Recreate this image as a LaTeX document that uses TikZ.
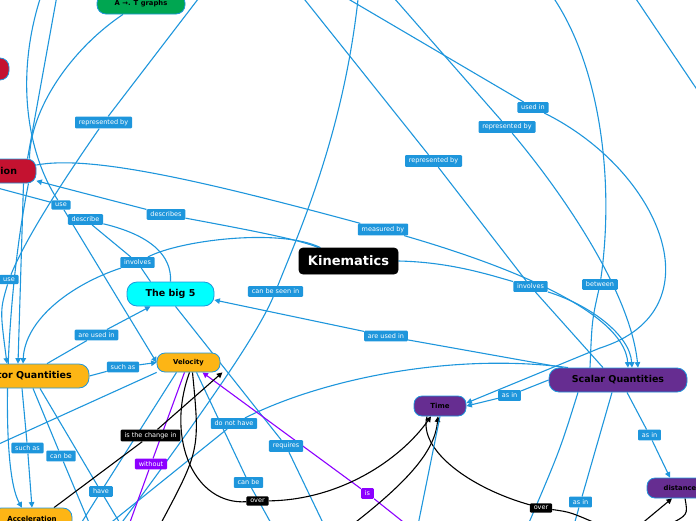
\documentclass[tikz,border=0pt]{standalone}
\usepackage{fontspec}
\setmainfont{DejaVu Sans}
\usetikzlibrary{arrows.meta, backgrounds}

\definecolor{linkblue}{RGB}{30,150,220}
\definecolor{kgreen}{RGB}{0,166,81}
\definecolor{kred}{RGB}{196,18,48}
\definecolor{kcyan}{RGB}{0,255,255}
\definecolor{korange}{RGB}{253,181,21}
\definecolor{kpurple}{RGB}{102,45,145}
\definecolor{kviolet}{RGB}{140,0,255}

\tikzset{
  concept/.style={draw=linkblue, line width=0.8pt, rounded corners=9pt, inner sep=2pt},
  lbl/.style={fill=linkblue, text=white, rounded corners=1pt, inner xsep=3.8pt, inner ysep=2.8pt,
    font=\fontsize{6.5}{7}\selectfont},
  blklbl/.style={lbl, fill=black},
  violbl/.style={lbl, fill=kviolet},
  link/.style={draw=linkblue, line width=1.1pt},
  blacklink/.style={draw=black, line width=1.1pt},
  violink/.style={draw=kviolet, line width=1.1pt},
  arr/.style={-{Triangle[length=5.5pt,width=5.5pt]}}
}

\begin{document}
\begin{tikzpicture}[x=1pt,y=-1pt]
  \useasboundingbox (0,0) rectangle (696,520);
  \clip (0,0) rectangle (696,520);

  % Concepts
  \node[concept, fill=kgreen, minimum width=88pt, minimum height=20pt, font=\bfseries\fontsize{6.8}{8}\selectfont] (atg) at (141,4) {A →. T graphs};
  \node[concept, fill=kred, minimum width=58pt, minimum height=22pt] (redtop) at (-20,69) {};
  \node[concept, fill=kred, minimum width=75pt, minimum height=24pt, font=\bfseries\fontsize{9.5}{11}\selectfont] (motion) at (-1.5,171) {Motion};
  \node[concept, fill=black, draw=black, text=white, rounded corners=4pt, minimum width=99pt, minimum height=26pt, font=\bfseries\fontsize{13}{15}\selectfont] (kin) at (348.5,261) {Kinematics};
  \node[concept, fill=kcyan, rounded corners=10pt, minimum width=87pt, minimum height=24pt, font=\bfseries\fontsize{9.5}{11}\selectfont] (bigfive) at (170.5,294) {The big 5};
  \node[concept, fill=korange, rounded corners=8pt, minimum width=63pt, minimum height=19pt, font=\bfseries\fontsize{6.8}{8}\selectfont] (vel) at (188.5,362.5) {Velocity};
  \node[concept, fill=korange, rounded corners=10pt, minimum width=128pt, minimum height=24pt, font=\bfseries\fontsize{9.5}{11}\selectfont] (vec) at (25,376) {Vector Quantities};
  \node[concept, fill=korange, rounded corners=9pt, minimum width=80pt, minimum height=22pt, font=\bfseries\fontsize{7}{8}\selectfont] (acc) at (32,519) {Acceleration};
  \node[concept, fill=kpurple, rounded corners=10pt, minimum width=138pt, minimum height=24pt, font=\bfseries\fontsize{9.5}{11}\selectfont] (scal) at (618,380) {Scalar Quantities};
  \node[concept, fill=kpurple, rounded corners=8pt, minimum width=52pt, minimum height=20pt, font=\bfseries\fontsize{7}{8}\selectfont] (time) at (440,406) {Time};
  \node[concept, fill=kpurple, rounded corners=8pt, minimum width=66pt, minimum height=20pt, font=\bfseries\fontsize{6.8}{8}\selectfont] (dist) at (680,488) {distance};

  % Link labels
  \node[lbl] (repA) at (103.5,122.5) {represented by};
  \node[lbl] (usedin) at (533,107.5) {used in};
  \node[lbl] (repB) at (507,127) {represented by};
  \node[lbl] (repC) at (433.5,161) {represented by};
  \node[lbl] (useA) at (61,205) {use};
  \node[lbl] (describe) at (85.5,219.5) {describe};
  \node[lbl] (describes) at (166,214.5) {describes};
  \node[lbl] (measured) at (383,229.5) {measured by};
  \node[lbl] (useB) at (9,279.5) {use};
  \node[lbl] (involA) at (137.5,262.5) {involves};
  \node[lbl] (seenin) at (275.5,291.5) {can be seen in};
  \node[lbl] (involB) at (530.5,286.5) {involves};
  \node[lbl] (between) at (600,284.5) {between};
  \node[lbl] (usedA) at (96.5,335) {are used in};
  \node[lbl] (usedB) at (386,336) {are used in};
  \node[lbl] (suchA) at (123,367) {such as};
  \node[lbl] (asinA) at (509.5,395.5) {as in};
  \node[blklbl] (change) at (150.5,435.5) {is the change in};
  \node[lbl] (donot) at (234,423.5) {do not have};
  \node[lbl] (asinB) at (649.5,435) {as in};
  \node[lbl] (suchB) at (27.5,448) {such as};
  \node[lbl] (canbeA) at (61,456) {can be};
  \node[lbl] (requires) at (286,446) {requires};
  \node[violbl] (without) at (151,464) {without};
  \node[lbl] (have) at (101,491.5) {have};
  \node[lbl] (canbeB) at (248.5,482.5) {can be};
  \node[blklbl] (overA) at (257.5,501) {over};
  \node[violbl] (is) at (367.5,493.5) {is};
  \node[blklbl] (overB) at (541,508) {over};
  \node[lbl] (asinC) at (580.5,502) {as in};

  % Ends outside the frame
  \coordinate (oA) at (43,-10);
  \coordinate (oB) at (58,-10);
  \coordinate (oC) at (205,-10);
  \coordinate (oD) at (297,-10);
  \coordinate (oE) at (333,-10);
  \coordinate (oF) at (359,-10);
  \coordinate (oG) at (387,-10);
  \coordinate (oH) at (548,-10);
  \coordinate (oI) at (630,-10);
  \coordinate (oJ) at (704,100);
  \coordinate (oK) at (-10,186);
  \coordinate (oL) at (-10,448);
  \coordinate (loopA) at (600,348);
  \coordinate (bA) at (80,525);
  \coordinate (bB) at (121,525);
  \coordinate (bC) at (90,525);
  \coordinate (bD) at (108,525);
  \coordinate (bE) at (120,525);
  \coordinate (bF) at (129,525);
  \coordinate (bG) at (160,525);
  \coordinate (bH) at (272,525);
  \coordinate (bI) at (324,525);
  \coordinate (bJ) at (352,525);
  \coordinate (bK) at (407,525);
  \coordinate (bL) at (418,525);
  \coordinate (bM) at (528,525);
  \coordinate (bN) at (574,525);
  \coordinate (bO) at (600,525);
  \coordinate (bP) at (640,525);
  \coordinate (bQ) at (668,525);

  \begin{scope}[on background layer]
    % Motion and the top left
    \draw[link] (oA) .. controls (15,70) and (25,150) .. (useA);
    \draw[link] (oK) -- (useA);
    \draw[link, arr] (useA) -- (vel.west);
    \draw[link] (oB) -- ([xshift=29pt]motion.north);
    \draw[link] ([xshift=-18pt]atg.south) .. controls (70,50) and (30,110) .. ([xshift=31pt]motion.north);
    \draw[link] (oC) -- (repA) .. controls (60,185) and (25,240) .. (useB);
    \draw[link, arr] (useB) .. controls (0,310) .. ([xshift=-18pt]vec.north);
    \draw[link, arr] ([xshift=25pt]motion.south) -- ([xshift=-7pt]vec.north);
    \draw[link, arr] ([xshift=30pt]motion.south) .. controls (5,300) and (0,470) .. ([xshift=-10pt]acc.north);
    \draw[link, arr] ([yshift=6pt]motion.east) .. controls (90,155) and (200,180) .. (measured)
      .. controls (540,275) and (625,320) .. ([xshift=10pt]scal.north);

    % Kinematics
    \draw[link, arr] ([xshift=-30pt]kin.north) .. controls (300,240) and (260,232) .. (describes) -- (motion);
    \draw[link, arr] ([xshift=-28pt]kin.north) .. controls (280,228) and (180,240) .. (involA)
      .. controls (70,285) and (25,320) .. ([xshift=-2pt]vec.north);
    \draw[link, arr] (kin.east) .. controls (450,262) and (490,275) .. (involB)
      .. controls (590,305) and (630,335) .. ([xshift=14pt]scal.north);
    \draw[link] (describe) -- (involA) -- ([xshift=-20pt]bigfive.north);
    \draw[link] (describe) .. controls (150,235) and (172,255) .. (bigfive.north);

    % top right
    \draw[link] (oD) -- (repC) -- (involB) -- ([xshift=-15pt]scal.north);
    \draw[link, arr] (oG) -- (repB) .. controls (560,190) and (630,290) .. ([xshift=20pt]scal.north);
    \draw[link] (oE) -- (usedin) .. controls (660,170) and (720,310) .. (loopA);
    \draw[link, arr] (loopA) -- ([yshift=3pt]time.east);
    \draw[link] (oH) .. controls (600,60) and (615,180) .. (between) .. controls (592,320) .. ([xshift=-28pt]scal.north);
    \draw[link] (oI) -- (oJ);

    % Scalar Quantities
    \draw[link, arr] (scal.west) -- (asinA) -- (time.east);
    \draw[link] ([xshift=-40pt]scal.south) .. controls (560,450) .. (bM);
    \draw[link] ([xshift=-6pt]scal.south) -- (asinC) -- (bN);
    \draw[link, arr] ([xshift=9pt]scal.south) -- (asinB) -- ([xshift=-10pt]dist.north);
    \draw[link, arr] ([xshift=-55pt]scal.north) -- (usedB) -- ([yshift=-6pt]bigfive.east);
    \draw[link] (bD) -- (donot) .. controls (320,380) and (450,352) .. ([xshift=-50pt]scal.north);

    % The big 5
    \draw[link, arr] ([xshift=22pt]vec.north) -- (usedA) -- ([xshift=-20pt]bigfive.south);
    \draw[link] ([xshift=5pt]bigfive.south) -- (requires) -- (bI);
    \draw[link] (oF) .. controls (345,130) and (300,230) .. (seenin) .. controls (255,340) and (190,430) .. (bE);

    % Vector Quantities and Velocity
    \draw[link, arr] (vec.east) -- (suchA) -- (vel.west);
    \draw[link] (vel.south west) -- (oL);
    \draw[link] ([xshift=-12pt]vel.south) -- (have) -- (bA);
    \draw[link] ([xshift=15pt]vec.south) -- (have) -- (bB);
    \draw[link, arr] ([xshift=-3pt]vec.south) -- (suchB) -- (acc.north);
    \draw[link] ([xshift=8pt]vec.south) -- (canbeA) -- (bC);
    \draw[link] ([xshift=8pt]vel.south) -- (canbeB) -- (bH);
    \draw[violink] ([xshift=-4pt]vel.south) -- (without) -- (bF);
    \draw[violink, arr] (bK) -- (is) -- ([xshift=14pt]vel.south);

    % black links
    \draw[blacklink, arr] ([xshift=22pt]acc.north) -- (change) -- ([xshift=2pt]vel.south east);
    \draw[blacklink, arr] ([xshift=1pt]vel.south) .. controls (165,440) and (195,505) .. (overA)
      .. controls (340,500) and (400,460) .. ([xshift=-9pt]time.south);
    \draw[blacklink] ([xshift=4pt]vel.south) .. controls (200,450) .. (bG);
    \draw[blacklink, arr] (bJ) .. controls (410,480) and (435,450) .. ([xshift=-2pt]time.south);
    \draw[blacklink] ([xshift=-13pt]time.south) .. controls (418,450) and (470,488) .. (overB)
      .. controls (570,512) .. (bO);
    \draw[link] (time.south) -- (bL);

    % distance
    \draw[blacklink, arr] (bP) -- ([xshift=-8pt]dist.south);
    \draw[blacklink] ([xshift=5pt]dist.south) .. controls (688,515) .. (bQ);
  \end{scope}
\end{tikzpicture}
\end{document}
